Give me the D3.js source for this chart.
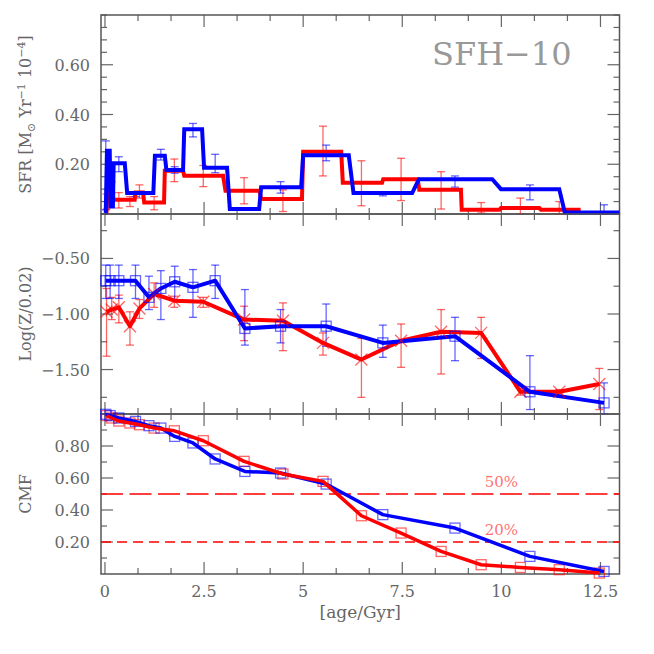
<!DOCTYPE html>
<html>
<head>
<meta charset="utf-8">
<script src="https://cdn.jsdelivr.net/npm/d3@7"></script>
<style>
  body { margin: 0; background: #fff; }
  svg text { font-family: "DejaVu Serif", serif; fill: #666; }
</style>
</head>
<body>
<div id="chart"></div>
<script>
// ---- data ----
// SFR step bins (start age, end age, value)
const redBinStart = [0.0, 0.08, 0.21, 0.77, 0.99, 1.51, 2.0, 3.04, 3.94, 5.0, 6.0, 7.02, 7.93, 9.0, 9.99, 11.0];
const redBinEnd   = [0.04, 0.19, 0.75, 0.96, 1.49, 1.97, 2.98, 3.9, 4.97, 5.96, 6.99, 7.89, 8.98, 9.95, 10.96, 12.0];
const redBinSfr   = [0.01, 0.164, 0.057, 0.086, 0.046, 0.174, 0.154, 0.093, 0.06, 0.25, 0.126, 0.14, 0.097, 0.017, 0.024, 0.017];

const blueBinStart = [0.0, 0.05, 0.14, 0.22, 0.56, 1.26, 1.55, 2.0, 2.5, 3.15, 3.94, 5.0, 6.27, 7.92, 9.99, 11.6];
const blueBinEnd   = [0.02, 0.12, 0.2, 0.5, 1.22, 1.51, 1.97, 2.45, 3.08, 3.89, 4.95, 6.15, 7.75, 9.77, 11.46, 12.98];
const blueBinSfr   = [0.005, 0.254, 0.03, 0.204, 0.084, 0.234, 0.177, 0.341, 0.186, 0.02, 0.108, 0.236, 0.084, 0.14, 0.10, 0.006];

// point ages
const redAge  = [0.04, 0.17, 0.35, 0.63, 0.87, 1.24, 1.75, 2.48, 3.51, 4.49, 5.5, 6.47, 7.47, 8.48, 9.49, 10.48, 11.46, 12.47];
const blueAge = [0.02, 0.13, 0.35, 0.77, 1.11, 1.41, 1.76, 2.22, 2.78, 3.53, 4.43, 5.58, 7.01, 8.83, 10.72, 12.59];

// SFR error bars
const redSfrLo  = [0.02, 0.13, 0.024, 0.03, 0.064, 0.017, 0.13, 0.11, 0.041, 0.01, 0.153, 0.033, 0.054, 0.02, 0.004, 0.001, 0.0, null];
const redSfrHi  = [0.08, 0.2, 0.086, 0.07, 0.117, 0.07, 0.221, 0.195, 0.146, 0.097, 0.353, 0.214, 0.224, 0.17, 0.046, 0.064, 0.05, null];
const blueSfrLo = [0.017, null, 0.17, 0.07, null, 0.217, 0.164, 0.31, 0.166, null, 0.084, 0.214, 0.073, 0.108, 0.057, 0.001];
const blueSfrHi = [0.294, null, 0.23, 0.086, null, 0.26, 0.19, 0.364, 0.24, null, 0.13, 0.277, 0.09, 0.153, 0.117, 0.037];

// metallicity
const redZ   = [-0.98, -0.96, -0.94, -1.11, -0.95, -0.82, -0.88, -0.89, -1.05, -1.06, -1.26, -1.41, -1.24, -1.16, -1.17, -1.70, -1.70, -1.63];
const redZHi = [-0.77, -0.85, -0.83, -0.98, -0.87, -0.72, -0.84, -0.85, -0.93, -0.90, -1.17, -1.22, -1.09, -0.96, -1.03, -1.67, -1.68, -1.49];
const redZLo = [-1.38, -1.05, -1.08, -1.28, -1.04, -0.94, -0.94, -0.94, -1.24, -1.33, -1.37, -1.75, -1.48, -1.54, -1.40, -1.73, -1.72, -1.86];
const blueZ   = [-0.70, -0.70, -0.70, -0.70, -0.85, -0.77, -0.71, -0.76, -0.70, -1.13, -1.11, -1.11, -1.26, -1.20, -1.70, -1.80];
const blueZHi = [-0.56, -0.56, -0.56, -0.56, -0.66, -0.61, -0.57, -0.60, -0.56, -0.78, -0.96, -0.91, -1.10, -1.03, -1.375, -1.62];
const blueZLo = [-0.86, -0.86, -0.86, -0.86, -0.96, -1.05, -0.87, -1.03, -0.86, -1.28, -1.26, -1.29, -1.39, -1.42, -1.86, -1.90];

// cumulative mass fraction
const redCmf  = [0.99, 0.975, 0.956, 0.944, 0.933, 0.912, 0.895, 0.833, 0.704, 0.625, 0.579, 0.364, 0.256, 0.141, 0.058, 0.041, 0.027, 0.006];
const blueCmf = [0.998, 0.99, 0.975, 0.954, 0.927, 0.912, 0.86, 0.819, 0.719, 0.641, 0.631, 0.562, 0.371, 0.287, 0.11, 0.016];

// reference levels
const cmfLevels = [0.5, 0.2];
const cmfLevelLabels = ["50%", "20%"];

// ticks
const xMajor = [0, 2.5, 5, 7.5, 10, 12.5];
const xMajorLabels = ["0", "2.5", "5", "7.5", "10", "12.5"];
const sfrTickLabels = ["0.20", "0.40", "0.60"];
const zTickLabels = ["\u22120.50", "\u22121.00", "\u22121.50"];
const cmfTickLabels = ["0.20", "0.40", "0.60", "0.80"];

// ---- layout ----
const width = 654, height = 654;
const left = 101, right = 619.5;
const RED = "#ff0000", BLUE = "#0000ff";
const RED_T = "rgba(255,0,0,0.6)", BLUE_T = "rgba(0,0,255,0.6)";

const svg = d3.select("#chart").append("svg")
    .attr("width", width)
    .attr("height", height);

const x = d3.scaleLinear().domain([-0.1, 12.98]).range([left, right]);
const ySfr = d3.scaleLinear().domain([0, 0.8]).range([214, 15]);
const yZ = d3.scaleLinear().domain([-1.9, -0.1]).range([414, 214]);
const yCmf = d3.scaleLinear().domain([0, 1]).range([574, 414]);

const xMinor = d3.range(0, 13, 2.5 / 3);

// draw frame and inward ticks on all sides
function panelFrame(y, yMinor, yMajorVals) {
    const g = svg.append("g");
    const [y0, y1] = y.range();
    const tick = (x1, y1_, x2, y2) => g.append("line")
        .attr("x1", x1).attr("y1", y1_).attr("x2", x2).attr("y2", y2)
        .attr("stroke", "#666").attr("stroke-width", 1.2);
    xMinor.forEach(v => {
        const isMaj = xMajor.some(m => Math.abs(m - v) < 1e-6);
        const len = isMaj ? 12 : 6;
        tick(x(v), y0, x(v), y0 - len);
        tick(x(v), y1, x(v), y1 + len);
    });
    yMinor.forEach(v => {
        const isMaj = yMajorVals.some(m => Math.abs(m - v) < 1e-6);
        const len = isMaj ? 12 : 6;
        tick(left, y(v), left + len, y(v));
        tick(right, y(v), right - len, y(v));
    });
    g.append("rect")
        .attr("x", left).attr("y", y1)
        .attr("width", right - left).attr("height", y0 - y1)
        .attr("fill", "none").attr("stroke", "#555").attr("stroke-width", 1.5);
}

function yLabels(y, vals, labels) {
    svg.append("g").selectAll("text")
        .data(vals)
        .enter().append("text")
        .attr("x", 90)
        .attr("y", d => y(d) + 6)
        .attr("text-anchor", "end")
        .attr("font-size", 16)
        .text((d, i) => labels[i]);
}

function errorBars(g, ages, y, lo, hi, color) {
    const idx = ages.map((a, i) => i).filter(i => lo[i] != null);
    const e = g.append("g").attr("stroke", color).attr("stroke-width", 1.3).attr("fill", "none");
    idx.forEach(i => {
        const xp = x(ages[i]);
        e.append("line").attr("x1", xp).attr("x2", xp).attr("y1", y(lo[i])).attr("y2", y(hi[i]));
        e.append("line").attr("x1", xp - 4).attr("x2", xp + 4).attr("y1", y(lo[i])).attr("y2", y(lo[i]));
        e.append("line").attr("x1", xp - 4).attr("x2", xp + 4).attr("y1", y(hi[i])).attr("y2", y(hi[i]));
    });
}

function stepPoints(starts, ends, vals) {
    const pts = [];
    starts.forEach((s, i) => {
        pts.push([s, vals[i]]);
        pts.push([ends[i], vals[i]]);
    });
    return pts;
}

// ---- top panel: SFR ----
panelFrame(ySfr, d3.range(0, 0.801, 0.05).map(v => +v.toFixed(2)), [0.2, 0.4, 0.6]);
yLabels(ySfr, [0.2, 0.4, 0.6], sfrTickLabels);

const gTop = svg.append("g");
errorBars(gTop, redAge, ySfr, redSfrLo, redSfrHi, RED_T);
errorBars(gTop, blueAge, ySfr, blueSfrLo, blueSfrHi, BLUE_T);

const sfrLine = d3.line().x(d => x(d[0])).y(d => ySfr(d[1]));
gTop.append("path")
    .attr("d", sfrLine(stepPoints(redBinStart, redBinEnd, redBinSfr)))
    .attr("fill", "none").attr("stroke", RED).attr("stroke-width", 4).attr("stroke-linejoin", "miter");
gTop.append("path")
    .attr("d", sfrLine(stepPoints(blueBinStart, blueBinEnd, blueBinSfr)))
    .attr("fill", "none").attr("stroke", BLUE).attr("stroke-width", 4).attr("stroke-linejoin", "miter");

svg.append("text")
    .attr("x", 432).attr("y", 65)
    .attr("font-size", 32)
    .style("fill", "#999")
    .text("SFH\u221210");

// y title with sub/superscripts
const sfrTitle = svg.append("text")
    .attr("transform", `translate(31,${(ySfr.range()[0] + ySfr.range()[1]) / 2}) rotate(-90)`)
    .attr("text-anchor", "middle")
    .attr("font-size", 16);
sfrTitle.append("tspan").text("SFR [M");
sfrTitle.append("tspan").attr("font-size", 11).attr("dy", 4).text("\u2299");
sfrTitle.append("tspan").attr("dy", -4).text(" Yr");
sfrTitle.append("tspan").attr("font-size", 11).attr("dy", -6).text("\u22121");
sfrTitle.append("tspan").attr("dy", 6).text(" 10");
sfrTitle.append("tspan").attr("font-size", 11).attr("dy", -6).text("\u22124");
sfrTitle.append("tspan").attr("dy", 6).text("]");

// ---- middle panel: metallicity ----
panelFrame(yZ, d3.range(-1.75, -0.1, 0.25).map(v => +v.toFixed(2)), [-0.5, -1.0, -1.5]);
yLabels(yZ, [-0.5, -1.0, -1.5], zTickLabels);

const gMid = svg.append("g");
errorBars(gMid, redAge, yZ, redZLo, redZHi, RED_T);
errorBars(gMid, blueAge, yZ, blueZLo, blueZHi, BLUE_T);

const zLine = d3.line().x(d => x(d[0])).y(d => yZ(d[1]));
gMid.append("path")
    .attr("d", zLine(redAge.map((a, i) => [a, redZ[i]])))
    .attr("fill", "none").attr("stroke", RED).attr("stroke-width", 4).attr("stroke-linejoin", "round");
gMid.append("path")
    .attr("d", zLine(blueAge.map((a, i) => [a, blueZ[i]])))
    .attr("fill", "none").attr("stroke", BLUE).attr("stroke-width", 4).attr("stroke-linejoin", "round");

// thin X markers
gMid.append("g").selectAll("path")
    .data(redAge)
    .enter().append("path")
    .attr("d", "M-6,-6L6,6M-6,6L6,-6")
    .attr("transform", (d, i) => `translate(${x(d)},${yZ(redZ[i])})`)
    .attr("fill", "none").attr("stroke", RED_T).attr("stroke-width", 1.3);
gMid.append("g").selectAll("rect")
    .data(blueAge)
    .enter().append("rect")
    .attr("x", d => x(d) - 5)
    .attr("y", (d, i) => yZ(blueZ[i]) - 5)
    .attr("width", 10).attr("height", 10)
    .attr("fill", "none").attr("stroke", BLUE_T).attr("stroke-width", 1.3);

svg.append("text")
    .attr("transform", `translate(31,${(yZ.range()[0] + yZ.range()[1]) / 2}) rotate(-90)`)
    .attr("text-anchor", "middle")
    .attr("font-size", 16)
    .text("Log(Z/0.02)");

// ---- bottom panel: CMF ----
panelFrame(yCmf, d3.range(0.1, 1.0, 0.1).map(v => +v.toFixed(1)), [0.2, 0.4, 0.6, 0.8]);
yLabels(yCmf, [0.2, 0.4, 0.6, 0.8], cmfTickLabels);

const gBot = svg.append("g");
gBot.selectAll("line.level")
    .data(cmfLevels)
    .enter().append("line")
    .attr("class", "level")
    .attr("x1", left).attr("x2", right)
    .attr("y1", d => yCmf(d)).attr("y2", d => yCmf(d))
    .attr("stroke", RED).attr("stroke-width", 1.3)
    .attr("stroke-dasharray", (d, i) => i === 0 ? "22,6.5" : "10,6");
gBot.selectAll("text.level")
    .data(cmfLevels)
    .enter().append("text")
    .attr("class", "level")
    .attr("x", x(10))
    .attr("y", d => yCmf(d) - 7)
    .attr("text-anchor", "middle")
    .attr("font-size", 15)
    .style("fill", "rgba(255,60,60,0.75)")
    .text((d, i) => cmfLevelLabels[i]);

gBot.append("g").selectAll("rect")
    .data(redAge)
    .enter().append("rect")
    .attr("x", d => x(d) - 5)
    .attr("y", (d, i) => yCmf(redCmf[i]) - 5)
    .attr("width", 10).attr("height", 10)
    .attr("fill", "none").attr("stroke", RED_T).attr("stroke-width", 1.3);
gBot.append("g").selectAll("rect")
    .data(blueAge)
    .enter().append("rect")
    .attr("x", d => x(d) - 5)
    .attr("y", (d, i) => yCmf(blueCmf[i]) - 5)
    .attr("width", 10).attr("height", 10)
    .attr("fill", "none").attr("stroke", BLUE_T).attr("stroke-width", 1.3);

const cmfLine = d3.line().x(d => x(d[0])).y(d => yCmf(d[1]));
gBot.append("path")
    .attr("d", cmfLine(blueAge.map((a, i) => [a, blueCmf[i]])))
    .attr("fill", "none").attr("stroke", BLUE).attr("stroke-width", 3.5).attr("stroke-linejoin", "round");
gBot.append("path")
    .attr("d", cmfLine(redAge.map((a, i) => [a, redCmf[i]])))
    .attr("fill", "none").attr("stroke", RED).attr("stroke-width", 3.5).attr("stroke-linejoin", "round");

svg.append("text")
    .attr("transform", `translate(31,${(yCmf.range()[0] + yCmf.range()[1]) / 2}) rotate(-90)`)
    .attr("text-anchor", "middle")
    .attr("font-size", 16)
    .text("CMF");

// x tick labels and title
svg.append("g").selectAll("text")
    .data(xMajor)
    .enter().append("text")
    .attr("x", d => x(d))
    .attr("y", 597)
    .attr("text-anchor", "middle")
    .attr("font-size", 16)
    .text((d, i) => xMajorLabels[i]);

svg.append("text")
    .attr("x", (left + right) / 2)
    .attr("y", 618)
    .attr("text-anchor", "middle")
    .attr("font-size", 17)
    .text("[age/Gyr]");
</script>
</body>
</html>
